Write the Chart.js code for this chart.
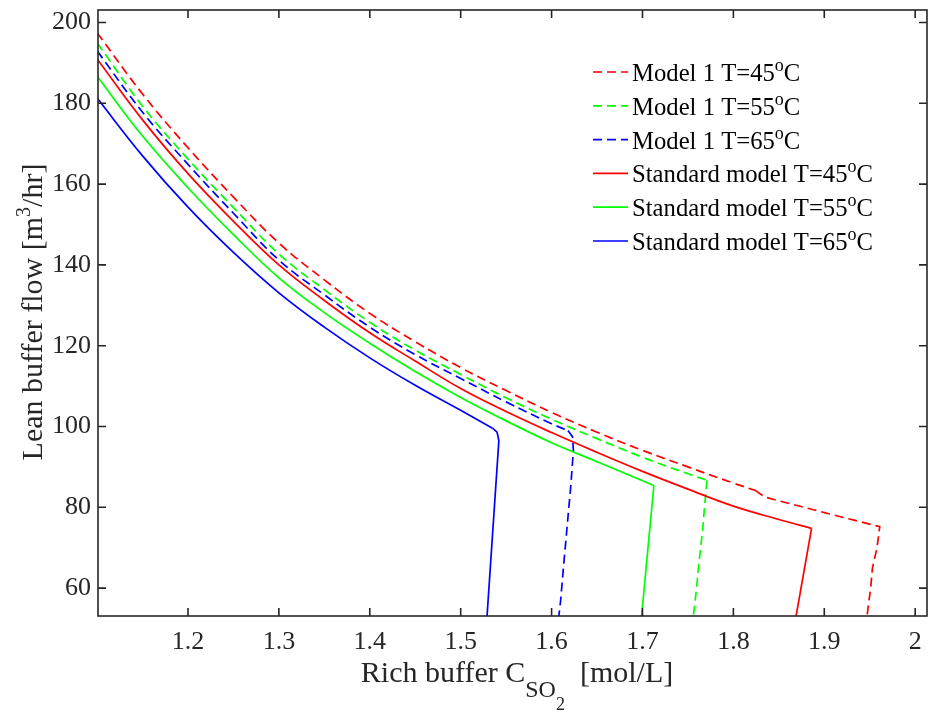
<!DOCTYPE html>
<html>
<head>
<meta charset="utf-8">
<script src="https://cdn.jsdelivr.net/npm/chart.js@4.4.1/dist/chart.umd.min.js"></script>
<style>
  html, body { margin: 0; padding: 0; background: #fff; }
  canvas { display: block; }
</style>
</head>
<body>
<canvas id="chart" width="928" height="713"></canvas>
<script>
// axis ticks
const xTicks = [1.2, 1.3, 1.4, 1.5, 1.6, 1.7, 1.8, 1.9, 2.0];
const yTicks = [60, 80, 100, 120, 140, 160, 180, 200];

// Model 1 (dashed): smooth part, then the straight tail down to the axis
const m45X = [1.1, 1.15, 1.2, 1.25, 1.3, 1.35, 1.4, 1.45, 1.5, 1.55, 1.6, 1.65, 1.7, 1.75, 1.8, 1.824];
const m45Y = [197.5, 182.3, 169.0, 156.8, 145.4, 136.3, 128.0, 121.0, 114.6, 108.9, 103.5, 98.6, 94.1, 90.0, 86.0, 84.2];
const m45TailX = [1.824, 1.835, 1.9, 1.961, 1.958, 1.953, 1.951, 1.947];
const m45TailY = [84.2, 82.5, 78.7, 75.2, 70, 65, 60, 53.1];

const m55X = [1.1, 1.15, 1.2, 1.25, 1.3, 1.35, 1.4, 1.45, 1.5, 1.55, 1.6, 1.65, 1.7, 1.75, 1.771];
const m55Y = [195.0, 179.3, 166.2, 154.2, 142.7, 133.9, 125.8, 118.9, 112.9, 107.1, 101.8, 97.0, 92.4, 88.3, 86.7];
const m55TailX = [1.771, 1.769, 1.766, 1.762, 1.759, 1.756];
const m55TailY = [86.7, 82, 74, 66, 59, 53.1];

const m65X = [1.1, 1.15, 1.2, 1.25, 1.3, 1.35, 1.4, 1.45, 1.5, 1.55, 1.6, 1.618];
const m65Y = [193.0, 177.8, 164.9, 152.8, 141.2, 132.6, 124.6, 117.8, 111.9, 106.1, 100.7, 99.0];
const m65TailX = [1.618, 1.623, 1.624, 1.621, 1.617, 1.613, 1.610, 1.608];
const m65TailY = [99.0, 97.5, 94, 85, 75, 65, 57, 53.1];

// Standard model (solid)
const s45X = [1.1, 1.15, 1.2, 1.25, 1.3, 1.35, 1.4, 1.45, 1.5, 1.55, 1.6, 1.65, 1.7, 1.75, 1.8, 1.85, 1.886];
const s45Y = [191.0, 175.9, 162.6, 150.8, 140.0, 131.2, 123.2, 116.2, 109.4, 103.7, 98.5, 93.6, 88.9, 84.5, 80.3, 77.0, 74.8];
const s45TailX = [1.886, 1.869];
const s45TailY = [74.8, 53.1];

const s55X = [1.1, 1.15, 1.2, 1.25, 1.3, 1.35, 1.4, 1.45, 1.5, 1.55, 1.6, 1.65, 1.7125];
const s55Y = [186.7, 171.9, 159.1, 147.5, 136.8, 128.2, 120.6, 113.6, 107.2, 101.4, 96.0, 91.3, 85.4];
const s55TailX = [1.7125, 1.699];
const s55TailY = [85.4, 53.1];

const s65X = [1.1, 1.15, 1.2, 1.25, 1.3, 1.35, 1.4, 1.45, 1.5, 1.535];
const s65Y = [181.3, 167.0, 154.3, 143.1, 133.1, 124.6, 117.0, 110.2, 104.0, 99.6];
const s65TailX = [1.535, 1.540, 1.542, 1.529];
const s65TailY = [99.6, 98.6, 96.5, 53.1];

const seriesNames = ["Model 1 T=45", "Model 1 T=55", "Model 1 T=65",
                     "Standard model T=45", "Standard model T=55", "Standard model T=65"];

const FONT = '"Liberation Serif", "Times New Roman", serif';
const AXIS = "#262626";

const toPts = (xs, ys) => xs.map((x, i) => ({ x: x, y: ys[i] }));

function line(label, xs, ys, color, dashed, tail) {
  return {
    label: label,
    tail: tail,
    data: toPts(xs, ys),
    showLine: true,
    borderColor: color,
    backgroundColor: color,
    borderWidth: 1.7,
    borderDash: dashed ? [9, 5] : [],
    pointRadius: 0,
    tension: tail ? 0 : 0.4
  };
}

// draws text runs with sub/superscripts, returns end x
function runs(ctx, x, y, parts, measureOnly) {
  for (const p of parts) {
    ctx.font = p.s + "px " + FONT;
    if (!measureOnly) ctx.fillText(p.t, x, y + (p.dy || 0));
    x += ctx.measureText(p.t).width;
  }
  return x;
}

const decor = {
  id: "decor",
  afterDatasetsDraw(chart) {
    const ctx = chart.ctx;
    const a = chart.chartArea;
    const xs = chart.scales.x, ys = chart.scales.y;
    ctx.save();
    ctx.strokeStyle = AXIS;
    ctx.lineWidth = 1.6;
    ctx.setLineDash([]);
    ctx.strokeRect(a.left, a.top, a.right - a.left, a.bottom - a.top);
    ctx.beginPath();
    const tl = 8;
    xTicks.forEach(v => {
      const px = xs.getPixelForValue(v);
      ctx.moveTo(px, a.bottom); ctx.lineTo(px, a.bottom - tl);
      ctx.moveTo(px, a.top); ctx.lineTo(px, a.top + tl);
    });
    yTicks.forEach(v => {
      const py = ys.getPixelForValue(v);
      ctx.moveTo(a.left, py); ctx.lineTo(a.left + tl, py);
      ctx.moveTo(a.right, py); ctx.lineTo(a.right - tl, py);
    });
    ctx.stroke();

    // legend
    ctx.textBaseline = "alphabetic";
    chart.data.datasets.filter(ds => !ds.tail).forEach((ds, i) => {
      const cy = 72 + i * 33.8;
      ctx.strokeStyle = ds.borderColor;
      ctx.lineWidth = 1.7;
      ctx.setLineDash(ds.borderDash);
      ctx.beginPath();
      ctx.moveTo(593, cy); ctx.lineTo(628, cy);
      ctx.stroke();
      ctx.setLineDash([]);
      ctx.fillStyle = "#000";
      runs(ctx, 632, cy + 9, [
        { t: ds.label, s: 24.7 },
        { t: "o", s: 18, dy: -10 },
        { t: "C", s: 24.7 }
      ]);
    });

    // axis titles
    ctx.fillStyle = AXIS;
    const xt = [
      { t: "Rich buffer C", s: 30 },
      { t: "SO", s: 24, dy: 15 },
      { t: "2", s: 18, dy: 28 },
      { t: "  [mol/L]", s: 30 }
    ];
    const xw = runs(ctx, 0, 0, xt, true);
    runs(ctx, 517 - xw / 2, 682, xt);

    const yt = [
      { t: "Lean buffer flow [m", s: 30 },
      { t: "3", s: 20, dy: -12 },
      { t: "/hr]", s: 30 }
    ];
    const yw = runs(ctx, 0, 0, yt, true);
    ctx.translate(42, 312);
    ctx.rotate(-Math.PI / 2);
    runs(ctx, -yw / 2, 0, yt);
    ctx.restore();
  }
};

new Chart(document.getElementById("chart"), {
  type: "scatter",
  data: {
    datasets: [
      line(seriesNames[0], m45X, m45Y, "#ff0000", true, false),
      line(seriesNames[1], m55X, m55Y, "#00ff00", true, false),
      line(seriesNames[2], m65X, m65Y, "#0000ff", true, false),
      line(seriesNames[3], s45X, s45Y, "#ff0000", false, false),
      line(seriesNames[4], s55X, s55Y, "#00ff00", false, false),
      line(seriesNames[5], s65X, s65Y, "#0000ff", false, false),
      line(seriesNames[0], m45TailX, m45TailY, "#ff0000", true, true),
      line(seriesNames[1], m55TailX, m55TailY, "#00ff00", true, true),
      line(seriesNames[2], m65TailX, m65TailY, "#0000ff", true, true),
      line(seriesNames[3], s45TailX, s45TailY, "#ff0000", false, true),
      line(seriesNames[4], s55TailX, s55TailY, "#00ff00", false, true),
      line(seriesNames[5], s65TailX, s65TailY, "#0000ff", false, true)
    ]
  },
  options: {
    responsive: false,
    animation: false,
    layout: { padding: { top: 10, right: 1, left: 0, bottom: 0 } },
    plugins: { legend: { display: false }, tooltip: { enabled: false } },
    scales: {
      x: {
        type: "linear",
        min: 1.101,
        max: 2.013,
        grid: { display: false, drawTicks: false },
        border: { display: false },
        afterBuildTicks: s => { s.ticks = xTicks.map(v => ({ value: v })); },
        afterFit: s => { s.height = 97; s.paddingLeft = 0; s.paddingRight = 0; },
        ticks: {
          padding: 11,
          color: AXIS,
          font: { family: FONT, size: 26 },
          maxRotation: 0,
          callback: v => (v === 2 ? "2" : v.toFixed(1))
        }
      },
      y: {
        type: "linear",
        min: 53.1,
        max: 203.1,
        grid: { display: false, drawTicks: false },
        border: { display: false },
        afterBuildTicks: s => { s.ticks = yTicks.map(v => ({ value: v })); },
        afterFit: s => { s.width = 98; s.paddingTop = 0; s.paddingBottom = 0; },
        ticks: {
          padding: 7,
          color: AXIS,
          font: { family: FONT, size: 26 },
          callback: v => String(v)
        }
      }
    }
  },
  plugins: [decor]
});
</script>
</body>
</html>
